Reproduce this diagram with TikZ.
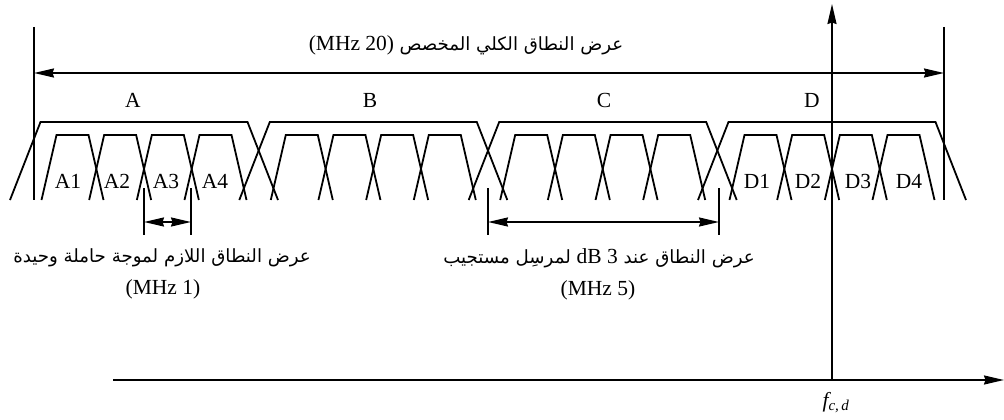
\documentclass[tikz,border=0pt]{standalone}
\usepackage{fontspec}
\setmainfont{Liberation Serif}
\newfontfamily\arabicfont[Script=Arabic]{DejaVu Sans}
\usetikzlibrary{arrows.meta}
\TeXXeTstate=1
\begin{document}
\begin{tikzpicture}[x=1pt,y=-1pt,
  ln/.style={line width=1.8pt, line join=miter},
  tip/.tip={Stealth[length=20pt,width=9pt,inset=1.5pt]},
  arr/.style={ln,-tip},
  darr/.style={ln,tip-tip},
  lbl/.style={font=\fontsize{21.5}{24}\selectfont, inner sep=0pt, anchor=base},
  ar/.style={font=\arabicfont\fontsize{18.2}{20}\selectfont, inner sep=0pt, anchor=base}]
\useasboundingbox (0,0) rectangle (1004,420);

% big blocks
\foreach \c in {144,373.3,602.7,832}
  \draw[ln] ({\c-134},200) -- ({\c-103.5},122) -- ({\c+103.5},122) -- ({\c+134},200);
% carriers
\foreach \c in {144,373.3,602.7,832}
  \foreach \k in {-71.5,-23.85,23.85,71.5}
    \draw[ln] ({\c+\k-31},200) -- ({\c+\k-16},135) -- ({\c+\k+16},135) -- ({\c+\k+31},200);

% block labels
\node[lbl] (lA) at (133,107) {A};
\node[lbl] (lB) at (370,107) {B};
\node[lbl] (lC) at (604,107) {C};
\node[lbl] (lD) at (812,107) {D};
% carrier labels
\foreach \n/\x in {1/68,2/117,3/166,4/215}
  \node[lbl] (la\n) at (\x,188) {A\n};
\foreach \n/\x in {1/757,2/808,3/858,4/909}
  \node[lbl] (ld\n) at (\x,188) {D\n};

% outer limits
\coordinate (L0) at (34,27);  \coordinate (L1) at (34,200);
\coordinate (R0) at (944,27); \coordinate (R1) at (944,200);
\draw[ln] (L0) -- (L1);
\draw[ln] (R0) -- (R1);
\coordinate (TL) at (34,73); \coordinate (TR) at (944,73);
\draw[darr] (TL) -- (TR);
\node[lbl] (title) at (466,51) {(MHz 20) {\arabicfont\fontsize{18.2}{20}\selectfont\beginR عرض النطاق الكلي المخصص\endR}};

% axes
\coordinate (xo) at (113,380); \coordinate (xe) at (1004,380);
\coordinate (yo) at (832,380); \coordinate (ye) at (832,4);
\draw[arr] (xo) -- (xe);
\draw[arr] (yo) -- (ye);
\node[lbl] (fcd) at (836,407) {\itshape f\textsubscript{c,\,d}};

% single carrier bandwidth
\coordinate (m1a) at (144,188); \coordinate (m1b) at (144,235);
\coordinate (m2a) at (191,188); \coordinate (m2b) at (191,235);
\draw[ln] (m1a) -- (m1b);
\draw[ln] (m2a) -- (m2b);
\coordinate (m1) at (144,222); \coordinate (m2) at (191,222);
\draw[darr] (m1) -- (m2);
\node[ar] (t1) at (162,262) {\beginR عرض النطاق اللازم لموجة حاملة وحيدة\endR};
\node[lbl] (t1b) at (163,294) {(MHz 1)};

% transponder bandwidth
\coordinate (n1a) at (488,188); \coordinate (n1b) at (488,235);
\coordinate (n2a) at (719,188); \coordinate (n2b) at (719,235);
\draw[ln] (n1a) -- (n1b);
\draw[ln] (n2a) -- (n2b);
\coordinate (n1) at (488,222); \coordinate (n2) at (719,222);
\draw[darr] (n1) -- (n2);
\node[ar] (t2) at (599,263) {\beginR عرض النطاق عند \beginL{\rmfamily\fontsize{21.5}{24}\selectfont dB 3}\endL{} لمرسِل مستجيب\endR};
\node[lbl] (t2b) at (598,295) {(MHz 5)};
\end{tikzpicture}
\end{document}
